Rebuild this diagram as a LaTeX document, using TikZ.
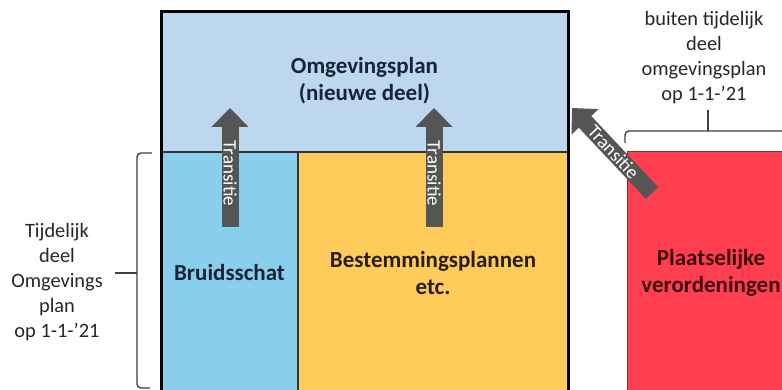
\documentclass[tikz,border=0pt]{standalone}
\usepackage{fontspec}
\setmainfont{Carlito}
\usepackage{xcolor}
\usetikzlibrary{arrows.meta, positioning}

\definecolor{planblue}{RGB}{189,215,238}
\definecolor{skyblue}{RGB}{137,206,236}
\definecolor{plangold}{RGB}{255,204,92}
\definecolor{verordred}{RGB}{255,62,80}
\definecolor{verorddark}{RGB}{150,40,50}
\definecolor{arrowgray}{RGB}{85,85,85}
\definecolor{navytext}{RGB}{25,35,55}
\definecolor{browntext}{RGB}{40,30,15}
\definecolor{maroontext}{RGB}{60,10,15}

\begin{document}
\begin{tikzpicture}[
            x=1pt, y=-1pt,
            region/.style={
                minimum width=#1,
                minimum height=242pt,
                anchor=north west,
                inner sep=0pt,
                outer sep=0pt
  },
  boldlabel/.style={
    align=center,
    font=\fontsize{23}{27}\selectfont\bfseries
  },
  sidelabel/.style={
    align=center,
    font=\fontsize{20.4}{25}\selectfont,
    text=black!85
  },
  transitie/.style={
    -{Triangle[width=36pt, length=19pt]},
    line width=17pt,
    arrowgray
  },
  transtext/.style={
    text=white,
    inner sep=0pt,
    font=\fontsize{19}{19}\selectfont
  },
  divider/.style={
    line width=1.8pt,
    black!80
  },
  bracket/.style={
    line width=1.4pt,
    black!75,
    rounded corners=4pt
  }
]

\clip (0,0) rectangle (782,390);

% Boxes
\node [region=407pt, minimum height=141pt, fill=planblue] (nieuw) at (161,12) {};
\node [region=137pt, fill=skyblue] (bruid) at (161,152) {};
\node [region=270pt, fill=plangold] (bestem) at (298,152) {};
\node [region=168pt, fill=verordred, draw=verorddark, line width=1pt] (verord) at (627,152) {};

% Lines between the boxes
\draw [divider] (bruid.north west) -- (bestem.north east);
\draw [divider] (bestem.north west) -- (bestem.south west);
\draw [line width=3pt] (bruid.south west) -- (nieuw.north west)
    -- (nieuw.north east) -- (bestem.south east);

% Labels in the boxes
\node [boldlabel, text=navytext] (nieuwtext) at ([yshift=2pt]nieuw.center) {Omgevingsplan\\(nieuwe deel)};
\node [boldlabel, text=navytext] (bruidtext) at (bruid.center) {Bruidsschat};
\node [boldlabel, text=browntext] (bestemtext) at (bestem.center) {Bestemmingsplannen\\etc.};
\node [boldlabel, text=maroontext] (verordtext) at (verord.center) {Plaatselijke\\verordeningen};

% Arrows
\coordinate (tail1) at (230,227);
\coordinate (head1) at (230,108);
\coordinate (tail2) at (434,227);
\coordinate (head2) at (434,108);
\coordinate (tail3) at (652,193);
\coordinate (head3) at (572,108);
\draw [transitie] (tail1) -- (head1) node [transtext, pos=0.45, rotate=-90] (trans1) {Transitie};
\draw [transitie] (tail2) -- (head2) node [transtext, pos=0.45, rotate=-90] (trans2) {Transitie};
\draw [transitie] (tail3) -- (head3) node [transtext, pos=0.48, sloped] (trans3) {Transitie};

% Brackets
\draw [bracket] (152,153) -- (137,153) -- (137,388) -- (150,388);
\draw [bracket] (137,273) -- (115,273);
\draw [bracket] (625,143) -- (625,131) -- (800,131);
\draw [bracket] (708,131) -- (708,110);

% Labels next to the brackets
\node [sidelabel] (tijdelijk) at (57,282) {Tijdelijk\\deel\\Omgevings\\plan\\op 1-1-’21};
\node [sidelabel] (buiten) at (704,58) {buiten tijdelijk\\deel\\omgevingsplan\\op 1-1-’21};

\end{tikzpicture}
\end{document}
